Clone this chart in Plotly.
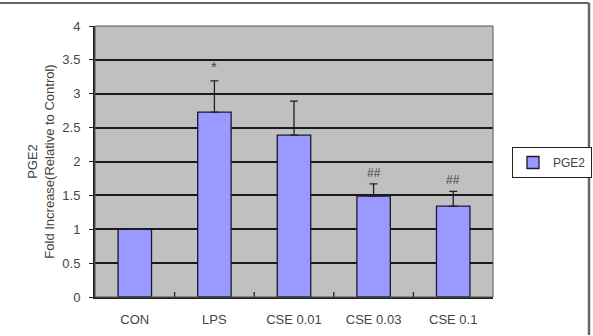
import plotly.graph_objects as go

categories = ["CON", "LPS", "CSE 0.01", "CSE 0.03", "CSE 0.1"]
values = [1.0, 2.73, 2.39, 1.49, 1.34]
errors = [0.0, 0.46, 0.50, 0.18, 0.22]
marks = ["", "*", "", "##", "##"]
y_ticks = [0, 0.5, 1, 1.5, 2, 2.5, 3, 3.5, 4]
y_tick_labels = ["0", "0.5", "1", "1.5", "2", "2.5", "3", "3.5", "4"]

W, H = 593, 336
L, R, T, B = 95, 100, 26, 39
pw, ph = W - L - R, H - T - B

def px(x):
    return (x - L) / pw

def py(y):
    return (H - B - y) / ph

FAM = "Liberation Sans, Arial, sans-serif"
font = dict(family=FAM, size=13, color="#444444")

fig = go.Figure()
fig.add_trace(go.Bar(
    x=categories, y=values, name="PGE2",
    width=0.42,
    marker=dict(color="#9999FF", line=dict(color="#1a1a2e", width=1.3)),
    error_y=dict(type="data", array=errors, arrayminus=[0]*len(errors),
                 symmetric=False, color="#222222", thickness=1.3, width=4),
))

for c, v, e, m in zip(categories, values, errors, marks):
    if m:
        fig.add_annotation(x=c, y=v + e, text=m, showarrow=False, yanchor="bottom",
                           yshift=4 if m == "*" else 2,
                           font=dict(family=FAM, size=15 if m == "*" else 12, color="#444444"))

fig.update_layout(
    width=W, height=H,
    margin=dict(l=L, r=R, t=T, b=B, autoexpand=False),
    paper_bgcolor="white",
    plot_bgcolor="#C0C0C0",
    font=font,
    showlegend=True,
    legend=dict(x=px(512), y=py(147), xanchor="left", yanchor="top",
                bordercolor="#222222", borderwidth=1, bgcolor="white",
                font=dict(family=FAM, size=12, color="#444444"),
                itemwidth=30, tracegroupgap=0),
    xaxis=dict(showgrid=False, showline=True, linecolor="#222222", linewidth=2,
               ticks="", tickfont=font, ticklabelstandoff=9),
    yaxis=dict(range=[0, 4], tickvals=y_ticks, ticktext=y_tick_labels,
               showgrid=True, gridcolor="#1a1a1a", gridwidth=1.8,
               showline=True, linecolor="#222222", linewidth=2,
               ticks="outside", ticklen=4, tickcolor="#222222",
               tickfont=font, zeroline=False, ticklabelstandoff=6,
               title=dict(text="PGE2<br>Fold Increase(Relative to Control)",
                          font=font, standoff=5)),
)

# category boundary ticks at bottom (inside)
for i in range(1, len(categories)):
    fig.add_shape(type="line", xref="x", yref="paper", x0=i - 0.5, x1=i - 0.5,
                  y0=0, y1=5 / ph, line=dict(color="#222222", width=1.3))
# plot area border
fig.add_shape(type="rect", xref="paper", yref="paper", x0=0, x1=1, y0=0, y1=1,
              line=dict(color="#555555", width=1))
# outer frame (top and right)
fig.add_shape(type="line", xref="paper", yref="paper", x0=px(0), x1=px(589),
              y0=py(3), y1=py(3), line=dict(color="#666666", width=2))
fig.add_shape(type="line", xref="paper", yref="paper", x0=px(589), x1=px(589),
              y0=py(3), y1=py(335), line=dict(color="#666666", width=2.5))

fig.write_html("out.html")
